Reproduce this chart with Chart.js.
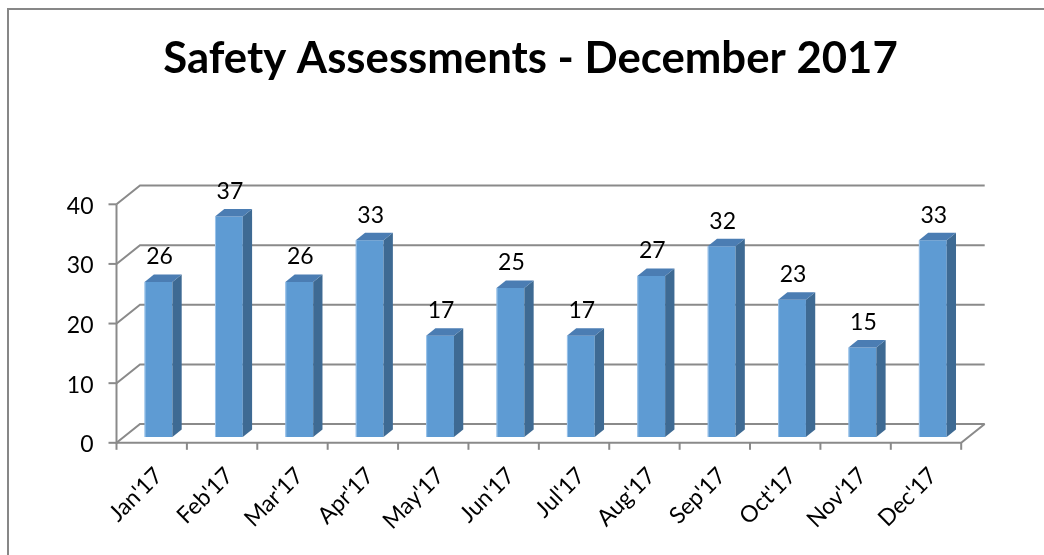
<!DOCTYPE html>
<html>
<head>
<meta charset="utf-8">
<script src="https://cdn.jsdelivr.net/npm/chart.js@4/dist/chart.umd.min.js"></script>
<style>
html,body{margin:0;padding:0;background:#fff;}
#wrap{width:1044px;height:555px;position:relative;}
</style>
</head>
<body>
<div id="wrap"><canvas id="c" width="1044" height="555"></canvas></div>
<script>
const chartTitle = "Safety Assessments - December 2017";
const categories = ["Jan'17","Feb'17","Mar'17","Apr'17","May'17","Jun'17","Jul'17","Aug'17","Sep'17","Oct'17","Nov'17","Dec'17"];
const values = [26,37,26,33,17,25,17,27,32,23,15,33];
const yTicks = [0,10,20,30,40];

const FONT = "Lato, 'Open Sans', sans-serif";
const GRID = "#8a8a8a";
const FRONT = {dx:-6.8, dy:5.8};
const BACK = {dx:16.7, dy:-13};
const DEPTH = {dx:9.3, dy:-7.5};

const frame = {
  id:'frame',
  beforeDraw(chart){
    const ctx = chart.ctx;
    ctx.save();
    ctx.fillStyle = '#fff';
    ctx.fillRect(0,0,chart.width,chart.height);
    ctx.strokeStyle = '#878787';
    ctx.lineWidth = 2;
    ctx.beginPath();
    ctx.moveTo(8, 555); ctx.lineTo(8, 9); ctx.lineTo(1044, 9);
    ctx.stroke();
    ctx.fillStyle = '#000';
    let fs = 40;
    ctx.font = 'bold ' + fs + 'px ' + FONT;
    const w = ctx.measureText(chartTitle).width;
    fs = fs * 735 / w;
    ctx.font = 'bold ' + fs.toFixed(1) + 'px ' + FONT;
    ctx.textAlign = 'center';
    ctx.textBaseline = 'middle';
    ctx.fillText(chartTitle, 530.5, 59);
    ctx.restore();
  },
  beforeDatasetsDraw(chart){
    const ctx = chart.ctx;
    const xs = chart.scales.x, ys = chart.scales.y;
    const L = xs.left, R = xs.right;
    ctx.save();
    ctx.strokeStyle = GRID;
    ctx.lineWidth = 2;
    ctx.lineCap = 'butt';
    yTicks.forEach(v => {
      const y = ys.getPixelForValue(v);
      ctx.beginPath();
      ctx.moveTo(L + FRONT.dx, y + FRONT.dy);
      ctx.lineTo(L + BACK.dx, y + BACK.dy);
      ctx.lineTo(R + BACK.dx, y + BACK.dy);
      ctx.stroke();
      ctx.beginPath();
      ctx.moveTo(L + FRONT.dx - 8, y + FRONT.dy);
      ctx.lineTo(L + FRONT.dx, y + FRONT.dy);
      ctx.stroke();
    });
    const y0 = ys.getPixelForValue(0);
    const yTop = ys.getPixelForValue(yTicks[yTicks.length-1]);
    ctx.beginPath();
    ctx.moveTo(L + FRONT.dx, yTop + FRONT.dy);
    ctx.lineTo(L + FRONT.dx, y0 + FRONT.dy + 1);
    ctx.stroke();
    ctx.beginPath();
    ctx.moveTo(L + FRONT.dx, y0 + FRONT.dy);
    ctx.lineTo(R + FRONT.dx, y0 + FRONT.dy);
    ctx.lineTo(R + BACK.dx, y0 + BACK.dy);
    ctx.stroke();
    const cw = (R - L) / categories.length;
    for (let i = 0; i <= categories.length; i++) {
      const x = L + i * cw + FRONT.dx;
      ctx.beginPath();
      ctx.moveTo(x, y0 + FRONT.dy);
      ctx.lineTo(x, y0 + FRONT.dy + 7);
      ctx.stroke();
    }
    ctx.fillStyle = '#000';
    ctx.font = '23px ' + FONT;
    ctx.textAlign = 'right';
    ctx.textBaseline = 'middle';
    yTicks.forEach(v => {
      const y = ys.getPixelForValue(v);
      ctx.fillText(String(v), L + FRONT.dx - 23, y + FRONT.dy + 2);
    });
    ctx.font = '23px ' + FONT;
    categories.forEach((c, i) => {
      const x = xs.getPixelForValue(i) + FRONT.dx;
      ctx.save();
      ctx.translate(x + 7, y0 + FRONT.dy + 29);
      ctx.rotate(-Math.PI / 4);
      ctx.textAlign = 'right';
      ctx.textBaseline = 'middle';
      ctx.fillText(c, 0, 0);
      ctx.restore();
    });
    ctx.restore();
  },
  afterDatasetsDraw(chart){
    const ctx = chart.ctx;
    const meta = chart.getDatasetMeta(0);
    ctx.save();
    meta.data.forEach((bar, i) => {
      const p = bar.getProps(['x','y','base','width'], true);
      const xl = p.x - p.width/2, xr = p.x + p.width/2;
      ctx.fillStyle = '#3e6a93';
      ctx.beginPath();
      ctx.moveTo(xr, p.y);
      ctx.lineTo(xr + DEPTH.dx, p.y + DEPTH.dy);
      ctx.lineTo(xr + DEPTH.dx, p.base + DEPTH.dy);
      ctx.lineTo(xr, p.base);
      ctx.closePath();
      ctx.fill();
      ctx.fillStyle = '#4b7db3';
      ctx.beginPath();
      ctx.moveTo(xl, p.y);
      ctx.lineTo(xl + DEPTH.dx, p.y + DEPTH.dy);
      ctx.lineTo(xr + DEPTH.dx, p.y + DEPTH.dy);
      ctx.lineTo(xr, p.y);
      ctx.closePath();
      ctx.fill();
      ctx.strokeStyle = 'rgba(170,205,240,0.8)';
      ctx.lineWidth = 1;
      ctx.beginPath();
      ctx.moveTo(xl + 0.5, p.y);
      ctx.lineTo(xl + 0.5, p.base);
      ctx.stroke();
      ctx.fillStyle = '#000';
      ctx.font = '23px ' + FONT;
      ctx.textAlign = 'center';
      ctx.textBaseline = 'middle';
      ctx.fillText(String(values[i]), p.x + 1, p.y - 25);
    });
    ctx.restore();
  }
};

new Chart(document.getElementById('c'), {
  type: 'bar',
  data: {
    labels: categories,
    datasets: [{
      data: values,
      backgroundColor: '#5e9bd3',
      borderWidth: 0,
      categoryPercentage: 1,
      barPercentage: 0.395
    }]
  },
  options: {
    responsive: false,
    animation: false,
    devicePixelRatio: 1,
    layout: { padding: { left: 123.3, right: 76, top: 198.5, bottom: 118 } },
    plugins: { legend: { display: false }, title: { display: false }, tooltip: { enabled: false } },
    scales: {
      x: { display: false },
      y: { display: false, min: 0, max: 40 }
    }
  },
  plugins: [frame]
});
</script>
</body>
</html>
